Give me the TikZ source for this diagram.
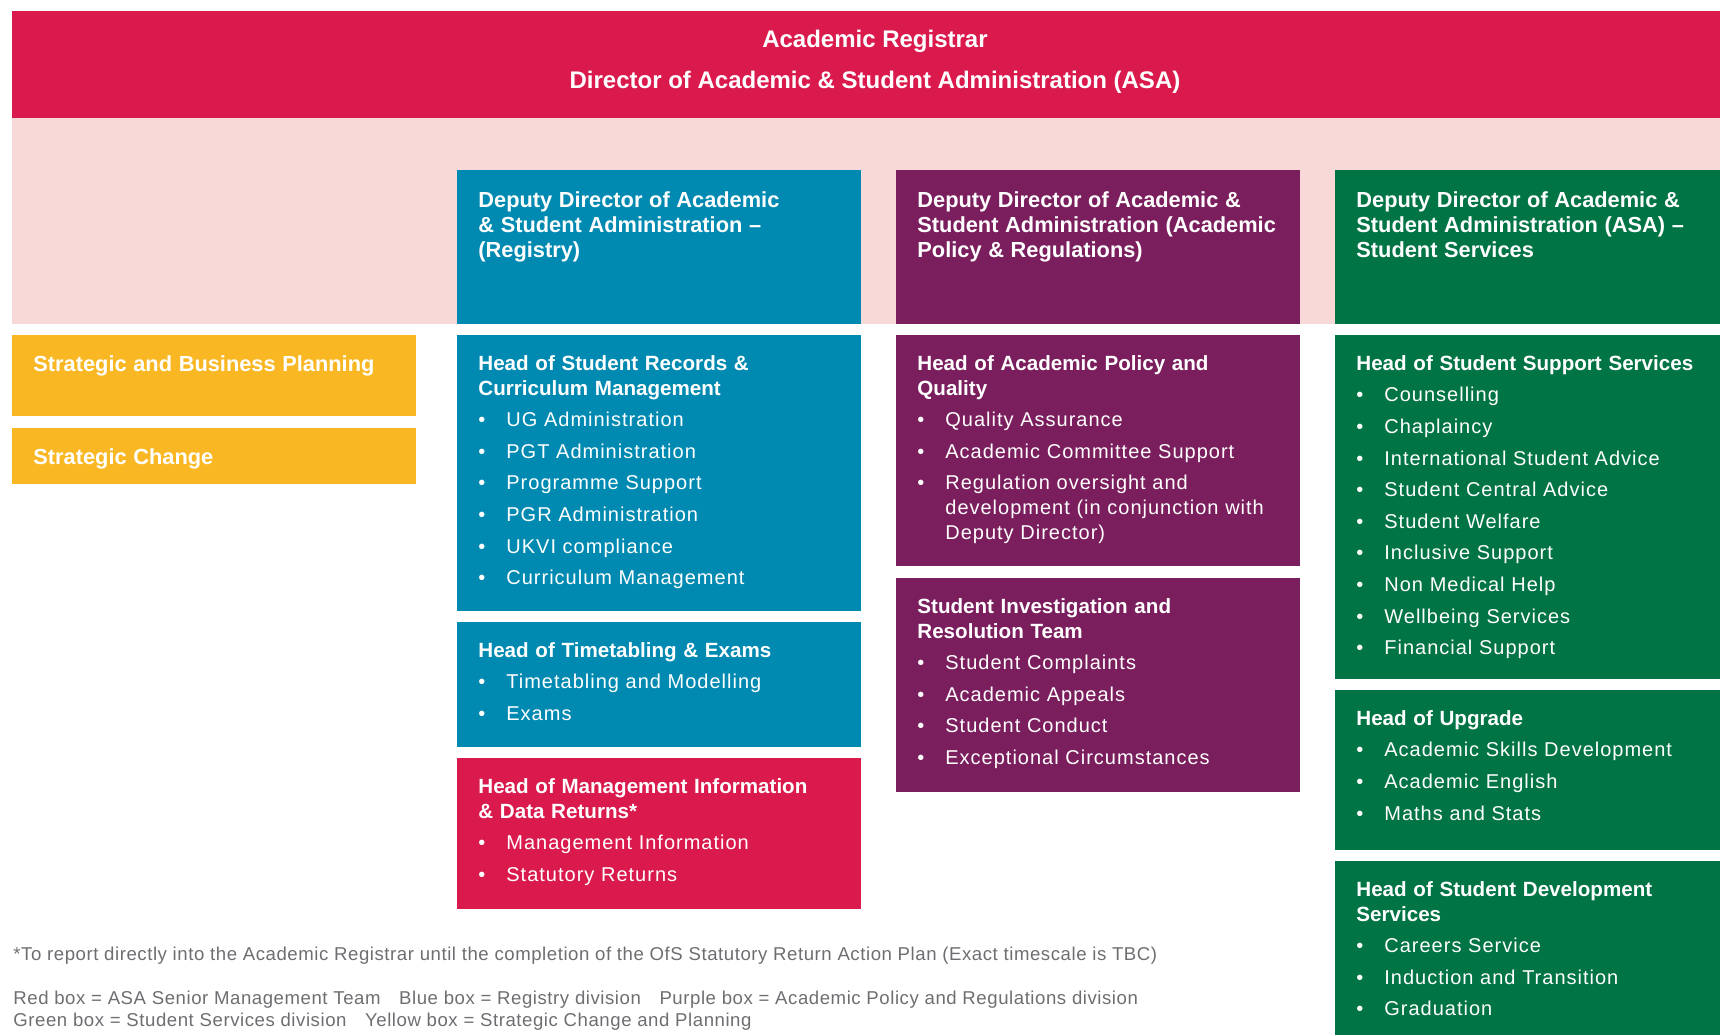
\documentclass[tikz,border=0pt]{standalone}
\usepackage{fontspec}
\setmainfont{Liberation Sans}
\newfontfamily\itemfam[LetterSpace=5]{Liberation Sans}
\newfontfamily\notefam[LetterSpace=3]{Liberation Sans}
\usetikzlibrary{positioning}
\definecolor{asaRed}{HTML}{DA1A4D}
\definecolor{asaPink}{HTML}{F8D9D8}
\definecolor{regBlue}{HTML}{008AB1}
\definecolor{polPurple}{HTML}{7B1E5E}
\definecolor{ssGreen}{HTML}{007444}
\definecolor{chgYellow}{HTML}{F9B823}
\definecolor{noteGrey}{HTML}{6D6E71}
\newcommand{\headfont}{\rmfamily\bfseries\fontsize{10.3}{12.4}\selectfont}
\newcommand{\depfont}{\rmfamily\bfseries\fontsize{10.9}{12.5}\selectfont}
\newcommand{\hd}[1]{{\headfont #1\par}}
\newcommand{\dep}[1]{{\depfont #1\par}}
\newcommand{\itm}[1]{\vskip3.4pt\hangindent=14pt\hangafter=1\noindent\makebox[14pt][l]{\textbullet}#1\par}
\newcommand{\OrgBox}[6]{% name, colour, left, top, right, bottom
    \fill[#2] (#3,#4) rectangle (#5,#6);
    \coordinate (#1) at (#3,#4);
}
\tikzset{
    boxtext/.style={anchor=north west, inner sep=0pt, text width=190pt, align=left, text=white, font=\itemfam\fontsize{10}{12.4}\selectfont},
    note/.style={anchor=base west, inner sep=0pt, text=noteGrey, font=\notefam\fontsize{9.3}{11}\selectfont}
}
\begin{document}
\begin{tikzpicture}[x=0.5pt, y=-0.5pt]
    \useasboundingbox (0,0) rectangle (1720,1035);

    % Registrar
    \OrgBox{hdr}{asaRed}{12}{11}{1720}{118}
    \OrgBox{band}{asaPink}{12}{118}{1720}{324}
    \node[font=\fontsize{12}{20.5}\selectfont\bfseries, text=white, align=center] (reg) at (875,62)
        {Academic Registrar\\Director of Academic \& Student Administration (ASA)};

    % Deputy directors
    \OrgBox{depReg}{regBlue}{457}{170}{861}{324}
    \node[boxtext] (depRegT) at ([shift={(21,21)}]depReg)
        {\dep{Deputy Director of Academic\\ \& Student Administration --\\ (Registry)}};
    \OrgBox{depPol}{polPurple}{896}{170}{1300}{324}
    \node[boxtext] (depPolT) at ([shift={(21,21)}]depPol)
        {\dep{Deputy Director of Academic \&\\ Student Administration (Academic\\ Policy \& Regulations)}};
    \OrgBox{depSS}{ssGreen}{1335}{170}{1720}{324}
    \node[boxtext] (depSST) at ([shift={(21,21)}]depSS)
        {\dep{Deputy Director of Academic \&\\ Student Administration (ASA) --\\ Student Services}};

    % Strategic change
    \OrgBox{sbp}{chgYellow}{12}{335}{416}{416}
    \node[boxtext] (sbpT) at ([shift={(21,20)}]sbp) {\dep{Strategic and Business Planning}};
    \OrgBox{chg}{chgYellow}{12}{428}{416}{484}
    \node[boxtext] (chgT) at ([shift={(21,20)}]chg) {\dep{Strategic Change}};

    % Registry
    \OrgBox{rec}{regBlue}{457}{335}{861}{611}
    \node[boxtext] (recT) at ([shift={(21,20)}]rec) {%
        \hd{Head of Student Records \&\\ Curriculum Management}
        \itm{UG Administration}
        \itm{PGT Administration}
        \itm{Programme Support}
        \itm{PGR Administration}
        \itm{UKVI compliance}
        \itm{Curriculum Management}};
    \OrgBox{tt}{regBlue}{457}{622}{861}{747}
    \node[boxtext] (ttT) at ([shift={(21,20)}]tt) {%
        \hd{Head of Timetabling \& Exams}
        \itm{Timetabling and Modelling}
        \itm{Exams}};
    \OrgBox{mi}{asaRed}{457}{758}{861}{909}
    \node[boxtext] (miT) at ([shift={(21,20)}]mi) {%
        \hd{Head of Management Information\\ \& Data Returns*}
        \itm{Management Information}
        \itm{Statutory Returns}};

    % Academic policy
    \OrgBox{pol}{polPurple}{896}{335}{1300}{566}
    \node[boxtext] (polT) at ([shift={(21,20)}]pol) {%
        \hd{Head of Academic Policy and\\ Quality}
        \itm{Quality Assurance}
        \itm{Academic Committee Support}
        \itm{Regulation oversight and\newline development (in conjunction with\newline Deputy Director)}};
    \OrgBox{sirt}{polPurple}{896}{578}{1300}{792}
    \node[boxtext] (sirtT) at ([shift={(21,20)}]sirt) {%
        \hd{Student Investigation and\\ Resolution Team}
        \itm{Student Complaints}
        \itm{Academic Appeals}
        \itm{Student Conduct}
        \itm{Exceptional Circumstances}};

    % Student services
    \OrgBox{sup}{ssGreen}{1335}{335}{1720}{679}
    \node[boxtext] (supT) at ([shift={(21,20)}]sup) {%
        \hd{Head of Student Support Services}
        \itm{Counselling}
        \itm{Chaplaincy}
        \itm{International Student Advice}
        \itm{Student Central Advice}
        \itm{Student Welfare}
        \itm{Inclusive Support}
        \itm{Non Medical Help}
        \itm{Wellbeing Services}
        \itm{Financial Support}};
    \OrgBox{upg}{ssGreen}{1335}{690}{1720}{850}
    \node[boxtext] (upgT) at ([shift={(21,20)}]upg) {%
        \hd{Head of Upgrade}
        \itm{Academic Skills Development}
        \itm{Academic English}
        \itm{Maths and Stats}};
    \OrgBox{dev}{ssGreen}{1335}{861}{1720}{1035}
    \node[boxtext] (devT) at ([shift={(21,20)}]dev) {%
        \hd{Head of Student Development\\ Services}
        \itm{Careers Service}
        \itm{Induction and Transition}
        \itm{Graduation}};

    % Notes
    \node[note] (foot) at (13,960) {*To report directly into the Academic Registrar until the completion of the OfS Statutory Return Action Plan (Exact timescale is TBC)};
    \node[note] (keyA) at (13,1004) {Red box = ASA Senior Management Team\quad Blue box = Registry division\quad Purple box = Academic Policy and Regulations division};
    \node[note] (keyB) at (13,1026) {Green box = Student Services division\quad Yellow box = Strategic Change and Planning};
\end{tikzpicture}
\end{document}
